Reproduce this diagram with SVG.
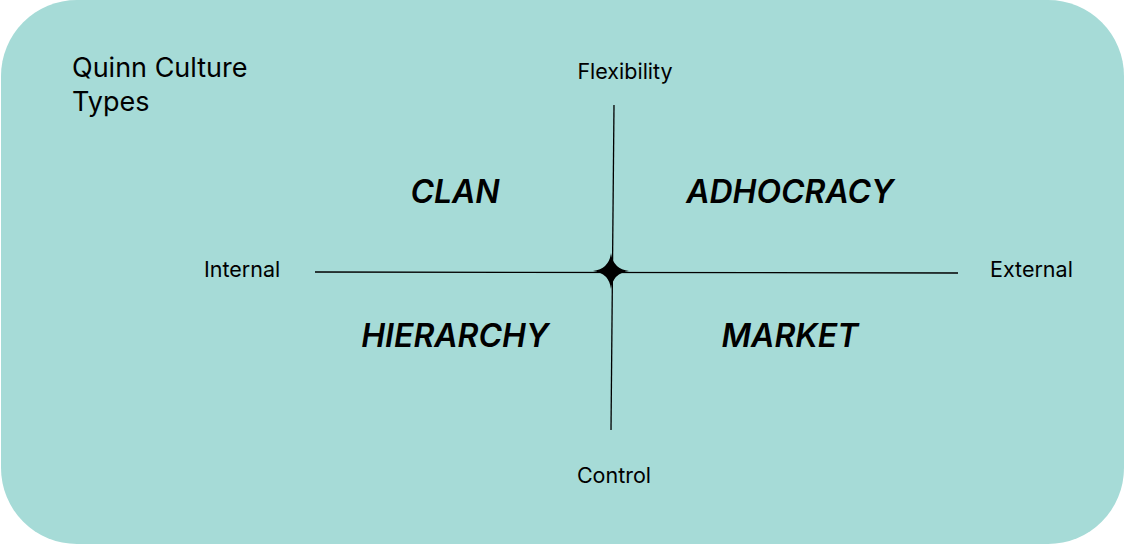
<svg xmlns="http://www.w3.org/2000/svg" width="1125" height="545" viewBox="0 0 1125 545">
<style>
.lbl{font-family:Inter,"Liberation Sans",sans-serif;font-size:21.5px;fill:#000}
.q{font-family:Inter,"Liberation Sans",sans-serif;font-size:32px;font-weight:600;font-style:italic;fill:#000;text-anchor:middle}
.ax{stroke:#000;stroke-width:1.3;fill:none}
</style>
<rect x="1" y="0" width="1123" height="544" rx="76" ry="76" fill="#a6dbd7"/>
<g id="title"><text class="lbl" style="font-size:27px" x="72" y="77">Quinn Culture</text><text class="lbl" style="font-size:27px" x="72" y="111">Types</text></g>
<g id="connectors">
<line class="ax" x1="614" y1="105" x2="611" y2="430"/>
<line class="ax" x1="315" y1="272" x2="958" y2="273"/>
<path d="M611,253 Q613,269 629,271 Q613,273 611,289 Q609,273 593,271 Q609,269 611,253 Z" fill="#000"/>
</g>
<g id="flex"><text class="lbl" x="625" y="79" text-anchor="middle">Flexibility</text></g>
<g id="control"><text class="lbl" x="614" y="483" text-anchor="middle">Control</text></g>
<g id="internal"><text class="lbl" x="204" y="277">Internal</text></g>
<g id="external"><text class="lbl" x="990" y="277">External</text></g>
<g id="clan"><text class="q" x="455" y="203">CLAN</text></g>
<g id="adhocracy"><text class="q" x="790" y="203">ADHOCRACY</text></g>
<g id="hierarchy"><text class="q" x="455" y="347">HIERARCHY</text></g>
<g id="market"><text class="q" x="790" y="347">MARKET</text></g>
</svg>
